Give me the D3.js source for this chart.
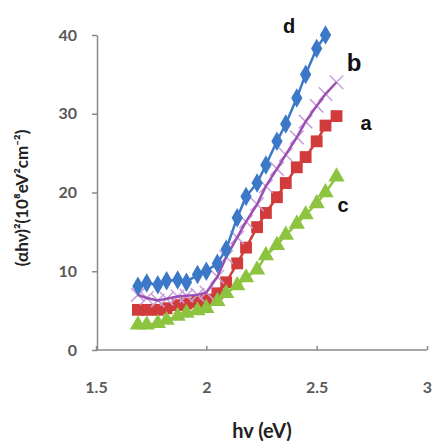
<!DOCTYPE html>
<html>
<head>
<meta charset="utf-8">
<title>Tauc plot</title>
<script src="https://cdn.jsdelivr.net/npm/d3@7"></script>
<style>
  body { margin: 0; background: #fff; }
  svg { display: block; }
  .axis path, .axis line { stroke: #8a8a8a; stroke-width: 1.5px; }
  .axis text { fill: #595959; font-family: Lato, "Open Sans", sans-serif; font-weight: bold; font-size: 16px; }
  .axisTitle { fill: #222; font-family: Lato, "Open Sans", sans-serif; font-weight: bold; }
  .seriesLabel { fill: #111; font-family: Arial, "Liberation Sans", sans-serif; font-weight: bold; font-size: 20px; }
</style>
</head>
<body>
<div id="chart"></div>
<script>
// photon energy (eV)
var hv = [1.69, 1.73, 1.78, 1.82, 1.87, 1.91, 1.96, 2.00, 2.05, 2.09, 2.14,
          2.18, 2.23, 2.27, 2.32, 2.36, 2.41, 2.45, 2.50, 2.54, 2.59];
// (alpha h nu)^2 values, 10^8 eV^2 cm^-2
var seriesA = [5.1, 5.1, 5.1, 5.3, 5.7, 5.9, 6.1, 6.4, 7.2, 8.6, 11.0,
               13.0, 15.6, 17.4, 19.4, 21.2, 23.2, 24.5, 26.5, 28.5, 29.7];
var seriesB = [7.0, 6.6, 6.3, 6.5, 6.8, 6.9, 7.0, 7.3, 9.3, 11.8, 14.3,
               16.3, 18.5, 20.8, 23.0, 24.8, 27.0, 29.0, 31.0, 32.5, 34.0];
var seriesC = [3.2, 3.2, 3.4, 3.8, 4.3, 4.7, 5.0, 5.3, 6.2, 7.2, 8.2,
               9.2, 10.2, 12.0, 13.3, 14.6, 16.0, 17.2, 18.6, 20.0, 22.0];
var seriesD = [8.1, 8.5, 8.3, 8.8, 8.9, 8.6, 9.6, 10.0, 11.0, 12.8, 16.8,
               19.5, 21.2, 23.5, 26.5, 28.7, 32.0, 35.0, 38.3, 40.0];
var xTicks = [1.5, 2, 2.5, 3];
var yTicks = [0, 10, 20, 30, 40];

var width = 433, height = 448;

var svg = d3.select('#chart')
    .append('svg')
    .attr('width', width)
    .attr('height', height);

var xScale = d3.scaleLinear().domain([1.5, 3]).range([96, 427]);
var yScale = d3.scaleLinear().domain([0, 40]).range([350, 35]);

// axes
var yAxisG = svg.append('g')
    .attr('class', 'axis')
    .attr('transform', 'translate(97,0)')
    .call(d3.axisLeft(yScale).tickValues(yTicks).tickSize(5).tickPadding(15).tickSizeOuter(0));

var xAxisG = svg.append('g')
    .attr('class', 'axis')
    .attr('transform', 'translate(0,350)')
    .call(d3.axisBottom(xScale).tickValues(xTicks).tickFormat(d3.format('')).tickSize(-4).tickSizeOuter(0).tickPadding(32));
xAxisG.select('.domain').attr('d', 'M97,0H427');

// titles
svg.append('text')
    .attr('class', 'axisTitle')
    .attr('x', 262)
    .attr('y', 438)
    .attr('text-anchor', 'middle')
    .style('font-size', '20px')
    .text('hv (eV)');

svg.append('text')
    .attr('class', 'axisTitle')
    .attr('transform', 'translate(28,198) rotate(-90)')
    .attr('text-anchor', 'middle')
    .style('font-size', '17px')
    .text('(αhν)²(10⁸eV²cm⁻²)');

var line = d3.line()
    .x(function(d){ return xScale(d[0]); })
    .y(function(d){ return yScale(d[1]); });

function pts(vals){
    return vals.map(function(v, i){ return [hv[i], v]; });
}

var series = [
    {name: 'a', values: seriesA, color: '#d23b3b', marker: 'square', lx: 366, ly: 130},
    {name: 'b', values: seriesB, color: '#9a4fb2', mcolor: '#c9a0dc', marker: 'cross', lx: 354, ly: 71},
    {name: 'c', values: seriesC, color: '#8cc43f', marker: 'triangle', lx: 343, ly: 212},
    {name: 'd', values: seriesD, color: '#3b78c8', marker: 'diamond', lx: 289, ly: 33}
];

var symbols = {
    square: d3.symbol().type(d3.symbolSquare).size(140),
    triangle: d3.symbol().type(d3.symbolTriangle).size(115),
    diamond: d3.symbol().type(d3.symbolDiamond).size(110),
    cross: d3.symbol().type(d3.symbolX).size(120)
};

series.forEach(function(s){
    var g = svg.append('g');
    var data = pts(s.values);
    g.append('path')
        .datum(data)
        .attr('fill', 'none')
        .attr('stroke', s.color)
        .attr('stroke-width', 2.5)
        .attr('d', line);
    g.selectAll('.mk')
        .data(data)
        .enter()
        .append('path')
        .attr('class', 'mk')
        .attr('transform', function(d){
            return 'translate(' + xScale(d[0]) + ',' + yScale(d[1]) + ')';
        })
        .attr('d', symbols[s.marker])
        .attr('fill', s.marker == 'cross' ? 'none' : s.color)
        .attr('stroke', s.marker == 'cross' ? s.mcolor : 'none')
        .attr('stroke-width', 1.5);
    if (s.marker == 'cross') {
        g.select('path').raise();
    }
    svg.append('text')
        .attr('class', 'seriesLabel')
        .attr('x', s.lx)
        .attr('y', s.ly)
        .attr('text-anchor', 'middle')
        .style('font-size', s.name == 'b' ? '24px' : '20px')
        .text(s.name);
});
</script>
</body>
</html>
